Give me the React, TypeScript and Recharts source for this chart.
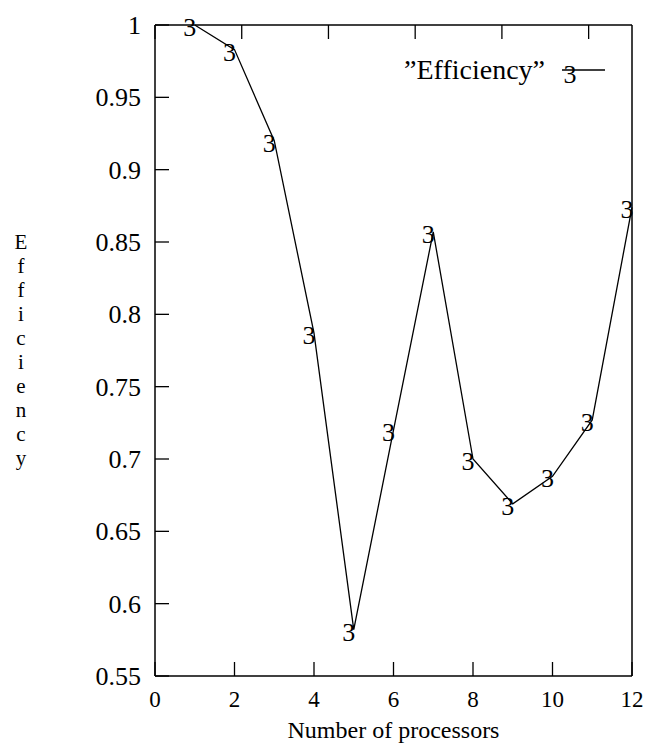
import { LineChart, Line, XAxis, YAxis, Label } from "recharts";

// number of processors and measured efficiency
const processors = [1, 2, 3, 4, 5, 6, 7, 8, 9, 10, 11, 12];
const efficiency = [1.0, 0.983, 0.92, 0.787, 0.582, 0.72, 0.857, 0.7, 0.669, 0.688, 0.727, 0.874];

const xTicks = [0, 2, 4, 6, 8, 10, 12];
const yTicks = [0.55, 0.6, 0.65, 0.7, 0.75, 0.8, 0.85, 0.9, 0.95, 1];

const yTitle = "Efficiency";
const xTitle = "Number of processors";
const seriesName = "\u201DEfficiency\u201D";

const data = processors.map((n, i) => ({ n, eff: efficiency[i] }));

const FONT = "'Liberation Serif', 'Times New Roman', serif";
const TICK_LEN = 14;

const LeftTick = ({ x, y, payload }: any) => (
  <g>
    <line x1={x + 14} x2={x + 14 + TICK_LEN} y1={y} y2={y} stroke="#000" strokeWidth={1.3} />
    <text x={x} y={y} dy="0.35em" textAnchor="end" fontFamily={FONT} fontSize={26} fill="#000">
      {String(payload.value)}
    </text>
  </g>
);

const RightTick = ({ x, y }: any) => (
  <line x1={x - TICK_LEN} x2={x} y1={y} y2={y} stroke="#000" strokeWidth={1.3} />
);

const BottomTick = ({ x, y, payload }: any) => (
  <g>
    <line x1={x} x2={x} y1={y - 23} y2={y - 23 - TICK_LEN} stroke="#000" strokeWidth={1.3} />
    <text x={x} y={y} dy="0.35em" textAnchor="middle" fontFamily={FONT} fontSize={23} fill="#000">
      {String(payload.value)}
    </text>
  </g>
);

const TopTick = ({ x, y }: any) => (
  <line x1={x} x2={x} y1={y} y2={y + TICK_LEN} stroke="#000" strokeWidth={1.3} />
);

// gnuplot's latex terminal draws the point marker as a "3"
const ThreeDot = (props: any) => {
  const { cx, cy, index } = props;
  return (
    <text
      key={`dot-${index}`}
      x={cx - 5}
      y={cy + 11}
      textAnchor="middle"
      fontFamily={FONT}
      fontSize={26}
      fill="#000"
    >
      3
    </text>
  );
};

// key box in the top right corner of the plot
const KeyBox = () => (
  <g>
    <text x={545} y={79} textAnchor="end" fontFamily={FONT} fontSize={28} fill="#000">
      {seriesName}
    </text>
    <line x1={562} x2={605} y1={70} y2={70} stroke="#000" strokeWidth={1.3} />
    <text x={570} y={83} textAnchor="middle" fontFamily={FONT} fontSize={26} fill="#000">
      3
    </text>
  </g>
);

export default function App() {
  return (
    <div style={{ position: "absolute", left: 0, top: 0, background: "#fff" }}>
      <LineChart width={655} height={746} data={data} margin={{ top: 0, right: 0, bottom: 0, left: 0 }}>
        <XAxis
          xAxisId="b"
          dataKey="n"
          type="number"
          domain={[0, 12]}
          ticks={xTicks}
          interval={0}
          height={70}
          tickSize={0}
          tickMargin={23}
          tickLine={false}
          axisLine={{ stroke: "#000", strokeWidth: 1.5 }}
          tick={<BottomTick />}
        >
          <Label
            content={() => (
              <text x={393.5} y={738} textAnchor="middle" fontFamily={FONT} fontSize={24} fill="#000">
                {xTitle}
              </text>
            )}
          />
        </XAxis>
        <XAxis
          xAxisId="t"
          orientation="top"
          type="number"
          domain={[0, 12]}
          ticks={xTicks}
          interval={0}
          height={25}
          tickSize={0}
          tickMargin={0}
          tickLine={false}
          axisLine={{ stroke: "#000", strokeWidth: 1.5 }}
          tick={<TopTick />}
        >
          <Label content={() => <KeyBox />} />
        </XAxis>
        <YAxis
          yAxisId="l"
          type="number"
          domain={[0.55, 1]}
          ticks={yTicks}
          interval={0}
          width={155}
          tickSize={0}
          tickMargin={14}
          tickLine={false}
          axisLine={{ stroke: "#000", strokeWidth: 1.5 }}
          tick={<LeftTick />}
        >
          <Label
            content={() => (
              <g>
                {yTitle.split("").map((ch, i) => (
                  <text
                    key={i}
                    x={21}
                    y={249 + i * 24}
                    textAnchor="middle"
                    fontFamily={FONT}
                    fontSize={21}
                    fill="#000"
                  >
                    {ch}
                  </text>
                ))}
              </g>
            )}
          />
        </YAxis>
        <YAxis
          yAxisId="r"
          orientation="right"
          type="number"
          domain={[0.55, 1]}
          ticks={yTicks}
          interval={0}
          width={23}
          tickSize={0}
          tickMargin={0}
          tickLine={false}
          axisLine={{ stroke: "#000", strokeWidth: 1.5 }}
          tick={<RightTick />}
        />
        <Line
          xAxisId="b"
          yAxisId="l"
          type="linear"
          dataKey="eff"
          stroke="#000"
          strokeWidth={1.3}
          dot={ThreeDot}
          activeDot={false}
          isAnimationActive={false}
        />
      </LineChart>
    </div>
  );
}
